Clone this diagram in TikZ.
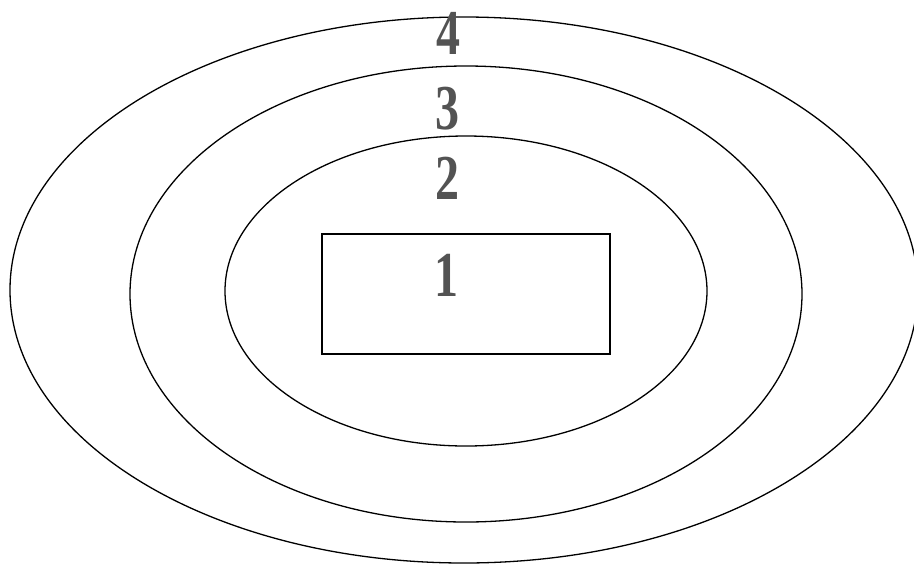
\documentclass[tikz,border=0pt]{standalone}
\usepackage{graphicx}
\usepackage{fontspec}
\newfontfamily\digitfont{Liberation Serif}
\tikzset{
  ring/.style={draw=black, line width=1.3pt},
  digit/.style={text=gray!65!black, font=\digitfont\fontsize{64}{64}\selectfont\bfseries, inner sep=0pt}
}
\newcommand{\dig}[1]{\scalebox{0.75}[1]{#1}}
\begin{document}
\begin{tikzpicture}[x=1pt,y=-1pt]
  \useasboundingbox (0,0) rectangle (914,566);
  \clip (0,0) rectangle (914,566);
  \draw[ring] (464,290) ellipse [x radius=454, y radius=273];
  \draw[ring] (466,294) ellipse [x radius=336, y radius=228];
  \draw[ring] (466,291) ellipse [x radius=241, y radius=155];
  \node[ring, draw, minimum width=288pt, minimum height=120pt, inner sep=0pt] (box) at (466,294) {};
  \node[digit] (d4) at (448,33) {\dig{4}};
  \node[digit] (d3) at (447,109) {\dig{3}};
  \node[digit] (d2) at (447,178) {\dig{2}};
  \node[digit] (d1) at (446,275) {\dig{1}};
\end{tikzpicture}
\end{document}
